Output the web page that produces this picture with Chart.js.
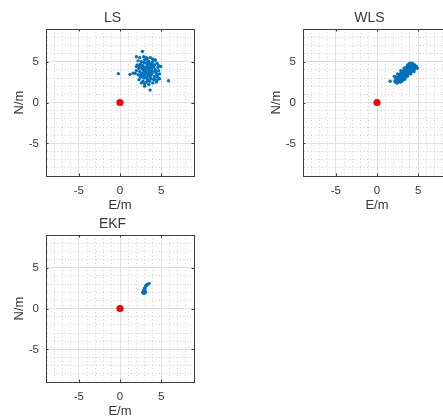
<!DOCTYPE html>
<html>
<head>
<meta charset="utf-8">
<script src="https://cdn.jsdelivr.net/npm/chart.js@4"></script>
<style>
  html, body { margin: 0; padding: 0; background: #fff; overflow: hidden; width: 443px; height: 419px; }
  .panel { position: absolute; }
</style>
</head>
<body>
<div class="panel" style="left:0;top:0"><canvas id="ls" width="225" height="213"></canvas></div>
<div class="panel" style="left:257px;top:0"><canvas id="wls" width="225" height="213"></canvas></div>
<div class="panel" style="left:0;top:206px"><canvas id="ekf" width="225" height="213"></canvas></div>
<script>
// Position estimates, [E, N] in metres
const lsPoints = [
  [2.72,6.25],[-0.2,3.53],[5.9,2.67],[3.66,1.52],[4.96,4.4],[1.22,3.45],[1.83,3.58],
  [2.0,5.6],[2.4,5.5],[2.9,5.6],[3.3,5.4],[3.7,5.5],[4.0,5.3],[4.3,5.2],[2.2,5.1],[2.6,5.0],
  [3.0,5.2],[3.5,5.0],[3.9,4.9],[4.5,4.8],[2.1,4.6],[2.5,4.7],[2.8,4.5],[3.2,4.8],[3.4,4.6],
  [3.8,4.5],[4.2,4.6],[4.6,4.3],[2.3,4.2],[2.7,4.1],[3.1,4.3],[3.5,4.2],[3.9,4.1],[4.3,4.0],
  [4.7,3.9],[2.0,3.9],[2.4,3.8],[2.9,3.9],[3.3,3.7],[3.6,3.9],[4.0,3.7],[4.4,3.6],[4.8,3.5],
  [2.2,3.4],[2.6,3.5],[3.0,3.4],[3.4,3.3],[3.8,3.4],[4.2,3.2],[4.6,3.1],[2.5,3.1],[2.9,3.0],
  [3.3,2.9],[3.7,3.0],[4.1,2.8],[4.5,2.7],[2.3,2.8],[2.8,2.6],[3.2,2.5],[3.6,2.6],[4.0,2.4],
  [4.4,2.5],[3.0,2.3],[3.5,2.2],[2.6,2.4],[3.1,4.0],[3.3,4.4],[3.6,4.7],[2.9,4.9],[3.7,4.3],
  [3.2,3.6],[3.5,3.5],[3.9,3.8],[2.7,3.6],[3.0,3.8],[4.1,4.3],[3.4,5.1],[2.6,4.4],[4.5,3.4],
  [3.8,2.9],[3.1,3.1],[2.8,3.3],[4.3,3.9],[3.6,3.2],[3.3,4.1],[4.0,5.0],[2.4,4.5],[3.7,3.6],
  [2.9,4.2],[4.2,2.9],[3.4,2.7],[2.5,3.3],[3.9,4.6],[4.7,4.5],[3.2,5.5],[1.6,3.6],[2.0,4.4],
  [4.8,2.9],[3.0,2.0]
];
const wlsPoints = [
  [1.6,2.6],[2.2,2.5],[2.4,2.4],[2.5,2.7],[2.3,2.9],[2.6,2.9],[2.7,2.6],[2.8,2.8],[2.5,3.1],
  [2.9,3.0],[2.7,3.2],[3.0,2.8],[3.1,3.1],[2.8,3.4],[3.0,3.3],[3.2,3.0],[3.3,3.3],[2.9,3.6],
  [3.1,3.5],[3.4,3.2],[3.2,3.7],[3.4,3.5],[3.5,3.3],[3.6,3.6],[3.3,3.9],[3.5,3.8],[3.7,3.5],
  [3.6,4.0],[3.8,3.8],[3.4,4.1],[3.9,3.6],[3.7,4.2],[3.9,4.0],[4.0,3.8],[3.8,4.4],[4.1,4.1],
  [4.0,4.4],[4.2,4.0],[4.3,4.3],[4.1,4.6],[4.3,4.8],[4.5,4.5],[4.6,4.3],[4.8,4.4],[4.4,4.1],
  [3.9,4.7],[3.2,3.4],[3.0,3.0],[2.6,3.0],[3.5,3.6],[3.7,3.9],[3.3,3.6],[2.8,3.1],[3.6,3.4],
  [4.2,4.5],[3.1,2.9],[2.9,2.7],[3.8,4.1],[3.5,4.0],[4.0,4.2],[2.7,2.9],[3.4,3.0],[3.0,3.6],
  [3.6,3.8],[4.4,4.4],[3.9,4.3],[2.6,2.6],[3.3,3.1],[3.7,3.7],[4.1,3.9],
  [2.1,3.2],[2.5,3.5],[2.9,3.9],[3.3,4.2],[3.7,4.6],[4.0,4.8],[2.3,3.1],[2.7,3.4],[3.1,3.8],
  [3.5,4.3],[3.9,4.5],[4.3,4.6],[2.4,2.8],[2.8,3.2],[3.2,3.2],[3.6,3.9],[4.0,4.0],[4.4,4.2],
  [2.6,2.5],[3.0,2.6],[3.4,2.9],[3.8,3.5],[4.2,3.8],[4.6,4.1],[2.5,2.4],[2.9,2.5],[3.3,2.8],
  [3.7,3.2],[4.1,3.5],[4.5,3.8],[4.9,4.2],[2.2,2.7],[4.6,4.6]
];
const ekfPoints = [
  [2.8,1.9],[2.9,1.9],[3.0,1.9],[3.1,2.0],[2.8,2.0],[2.9,2.0],[3.0,2.0],[2.85,2.1],[2.95,2.1],
  [3.05,2.1],[2.9,2.2],[3.0,2.25],[2.95,2.35],[3.0,2.45],[3.05,2.55],[3.13,2.76],[3.2,2.8],
  [3.29,2.93],[3.4,2.98],[3.54,3.05]
];
// True position
const truthPoint = [[0, 0]];

const axisMin = -9, axisMax = 9;
const labelledTicks = [-5, 0, 5];

const FONT = "'Liberation Sans', Arial, Helvetica, sans-serif";
const TEXT = '#383838';
const AXIS = '#3c3c3c';
const MAJOR_GRID = '#e0e0e0';
const MINOR_GRID = '#d2d2d2';

// Short inward tick marks on all four sides of the box
const innerTicks = {
  id: 'innerTicks',
  afterDraw(chart) {
    const { ctx, chartArea: a, scales: { x, y } } = chart;
    const len = 2.5;
    ctx.save();
    ctx.strokeStyle = AXIS;
    ctx.lineWidth = 1;
    ctx.beginPath();
    for (const v of labelledTicks) {
      const px = Math.round(x.getPixelForValue(v)) + 0.5;
      ctx.moveTo(px, a.bottom); ctx.lineTo(px, a.bottom - len);
      ctx.moveTo(px, a.top); ctx.lineTo(px, a.top + len);
      const py = Math.round(y.getPixelForValue(v)) + 0.5;
      ctx.moveTo(a.left, py); ctx.lineTo(a.left + len, py);
      ctx.moveTo(a.right, py); ctx.lineTo(a.right - len, py);
    }
    ctx.stroke();
    ctx.restore();
  }
};

function gridScale(axisTitle, fixSize) {
  return {
    type: 'linear',
    min: axisMin,
    max: axisMax,
    ticks: {
      stepSize: 1,
      autoSkip: false,
      maxRotation: 0,
      padding: 7,
      color: TEXT,
      font: { family: FONT, size: 11.5 },
      callback: (v) => (labelledTicks.includes(v) ? String(v) : '')
    },
    grid: {
      drawTicks: false,
      lineWidth: 1,
      color: (c) => (c.tick && c.tick.value % 5 === 0 ? MAJOR_GRID : MINOR_GRID)
    },
    border: {
      display: true,
      color: AXIS,
      width: 1,
      dash: (c) => (c.tick && c.tick.value % 5 !== 0 ? [1, 2.5] : [])
    },
    title: {
      display: true,
      text: axisTitle,
      color: TEXT,
      font: { family: FONT, size: 13 },
      padding: { top: 12, bottom: 0 }
    },
    afterFit: fixSize
  };
}

function frameScale(position, fixSize) {
  return {
    type: 'linear',
    position,
    min: axisMin,
    max: axisMax,
    ticks: { display: false },
    grid: { display: false, drawTicks: false },
    border: { display: true, color: AXIS, width: 1 },
    afterFit: fixSize
  };
}

function makePanel(id, titleText, points) {
  const xScale = gridScale('E/m', (s) => { s.height = 37; });
  xScale.position = 'bottom';
  xScale.ticks.padding = 8;
  const yScale = gridScale('N/m', (s) => { s.width = 46; });
  yScale.position = 'left';

  new Chart(document.getElementById(id), {
    type: 'scatter',
    data: {
      datasets: [
        {
          data: points.map(([e, n]) => ({ x: e, y: n })),
          pointRadius: 1.7,
          pointBorderWidth: 0,
          pointBackgroundColor: '#0072BD',
          pointHoverRadius: 1.7
        },
        {
          data: truthPoint.map(([e, n]) => ({ x: e, y: n })),
          pointRadius: 3.6,
          pointBorderWidth: 0,
          pointBackgroundColor: '#FF0000',
          pointHoverRadius: 3.6
        }
      ]
    },
    options: {
      responsive: false,
      animation: false,
      events: [],
      layout: { padding: 0 },
      plugins: {
        legend: { display: false },
        tooltip: { enabled: false },
        title: {
          display: true,
          text: titleText,
          color: TEXT,
          font: { family: FONT, size: 14, weight: 'normal' },
          padding: { top: 10, bottom: 2.2 }
        }
      },
      scales: {
        x: xScale,
        y: yScale,
        x2: frameScale('top', (s) => { s.height = 0; }),
        y2: frameScale('right', (s) => { s.width = 31; })
      }
    },
    plugins: [innerTicks]
  });
}

makePanel('ls', 'LS', lsPoints);
makePanel('wls', 'WLS', wlsPoints);
makePanel('ekf', 'EKF', ekfPoints);
</script>
</body>
</html>
